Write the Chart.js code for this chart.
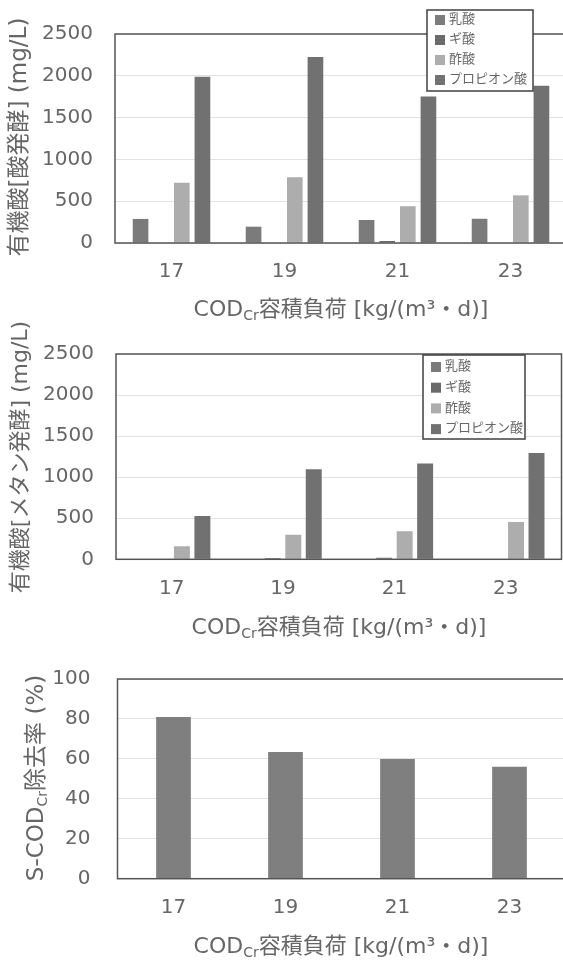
<!DOCTYPE html>
<html>
<head>
<meta charset="utf-8">
<script src="https://cdn.jsdelivr.net/npm/chart.js@4"></script>
<style>
html, body { margin: 0; padding: 0; background: #fff; overflow: hidden; width: 563px; height: 964px; }
canvas { position: absolute; left: 0; }
</style>
</head>
<body>
<canvas id="acidChart" width="580" height="320" style="top:0px"></canvas>
<canvas id="methChart" width="580" height="320" style="top:320px"></canvas>
<canvas id="removalChart" width="580" height="324" style="top:640px"></canvas>
<script>
// loads on the x axis
var loads = ['17', '19', '21', '23'];
var acidNames = ['乳酸', 'ギ酸', '酢酸', 'プロピオン酸'];

// organic acids, acid fermentation (mg/L)
var acidLactic = [288, 195, 275, 290];
var acidFormic = [0, 0, 24, 0];
var acidAcetic = [720, 785, 440, 570];
var acidPropionic = [1990, 2225, 1752, 1880];

// organic acids, methane fermentation (mg/L)
var methLactic = [0, 8, 8, 0];
var methFormic = [0, 15, 18, 0];
var methAcetic = [160, 300, 342, 455];
var methPropionic = [527, 1098, 1166, 1295];

// S-CODcr removal (%)
var removalRate = [81, 63.5, 60, 56];

var acidColors = ['#7b7b7b', '#6a6a6a', '#adadad', '#717171'];
var FONT = "'DejaVu Sans', 'Noto Sans CJK JP', sans-serif";
var TEXT = '#666666';

var xTitle = [['COD'], ['Cr', true], ['容積負荷 [kg/(m³・d)]']];

function drawParts(ctx, parts, size) {
    var w = 0;
    parts.forEach(function (p) {
        ctx.font = (p[1] ? Math.round(size * 0.62) : size) + 'px ' + FONT;
        w += ctx.measureText(p[0]).width;
    });
    var x = -w / 2;
    parts.forEach(function (p) {
        ctx.font = (p[1] ? Math.round(size * 0.62) : size) + 'px ' + FONT;
        ctx.fillText(p[0], x, p[1] ? size * 0.28 : 0);
        x += ctx.measureText(p[0]).width;
    });
}

var extras = {
    id: 'extras',
    afterDatasetsDraw: function (chart) {
        var a = chart.chartArea, ctx = chart.ctx;
        ctx.save();
        ctx.strokeStyle = '#555555';
        ctx.lineWidth = 1.5;
        ctx.strokeRect(a.left, a.top, a.right - a.left, a.bottom - a.top);
        ctx.restore();
    },
    afterDraw: function (chart) {
        var o = chart.options.plugins.extras, ctx = chart.ctx;
        ctx.save();
        ctx.fillStyle = TEXT;
        ctx.textBaseline = 'middle';
        // x title
        ctx.save();
        ctx.translate(o.xTitle.x, o.xTitle.y);
        drawParts(ctx, xTitle, 22);
        ctx.restore();
        // y title
        ctx.save();
        ctx.translate(o.yTitle.x, o.yTitle.y);
        ctx.rotate(-Math.PI / 2);
        drawParts(ctx, o.yTitle.parts, o.yTitle.size);
        ctx.restore();
        // legend box
        var L = o.legend;
        if (L) {
            ctx.fillStyle = '#ffffff';
            ctx.fillRect(L.x, L.y, L.w, L.h);
            ctx.strokeStyle = '#404040';
            ctx.lineWidth = 1.5;
            ctx.strokeRect(L.x, L.y, L.w, L.h);
            ctx.font = '13px ' + FONT;
            chart.data.datasets.forEach(function (ds, i) {
                var cy = L.y + L.first + i * L.row;
                ctx.fillStyle = ds.backgroundColor;
                ctx.fillRect(L.x + 8, cy - 5, 10, 10);
                ctx.fillStyle = TEXT;
                ctx.textAlign = 'left';
                ctx.fillText(ds.label, L.x + 22, cy);
            });
        }
        ctx.restore();
    }
};

function makeChart(id, box, datasets, yMax, yStep, extraOpts, catPct, barPct) {
    var canvas = document.getElementById(id);
    var W = canvas.width, H = canvas.height;
    return new Chart(canvas, {
        type: 'bar',
        data: { labels: loads, datasets: datasets },
        options: {
            responsive: false,
            animation: false,
            devicePixelRatio: 1,
            categoryPercentage: catPct,
            barPercentage: barPct,
            layout: { padding: { top: box.top, right: W - box.right, left: 0, bottom: 0 } },
            plugins: {
                legend: { display: false },
                tooltip: { enabled: false },
                extras: extraOpts
            },
            scales: {
                x: {
                    grid: { display: false, drawTicks: false },
                    border: { display: false },
                    ticks: { font: { family: FONT, size: 20 }, color: TEXT, padding: 17 },
                    afterFit: function (s) { s.height = H - box.bottom; }
                },
                y: {
                    min: 0, max: yMax,
                    grid: { color: '#e2e2e2', drawTicks: false },
                    border: { display: false },
                    ticks: {
                        stepSize: yStep, font: { family: FONT, size: 20 }, color: TEXT, padding: box.tickPad,
                        callback: function (v) { return String(v); }
                    },
                    afterFit: function (s) { s.width = box.left; }
                }
            }
        },
        plugins: [extras]
    });
}

function acidSets(vals) {
    return vals.map(function (v, i) {
        return { label: acidNames[i], data: v, backgroundColor: acidColors[i], borderWidth: 0 };
    });
}

makeChart('acidChart',
    { left: 115, right: 567, top: 34, bottom: 243, tickPad: 22 },
    acidSets([acidLactic, acidFormic, acidAcetic, acidPropionic]), 2500, 500,
    {
        xTitle: { x: 341, y: 310 },
        yTitle: { x: 20, y: 137, size: 23, parts: [['有機酸[酸発酵] (mg/L)']] },
        legend: { x: 427, y: 10, w: 106, h: 81, first: 10, row: 20 }
    }, 0.73, 0.76);

makeChart('methChart',
    { left: 116, right: 561.5, top: 30.5, bottom: 239.3, tickPad: 22 },
    acidSets([methLactic, methFormic, methAcetic, methPropionic]), 2500, 500,
    {
        xTitle: { x: 339, y: 308 },
        yTitle: { x: 21, y: 137, size: 22, parts: [['有機酸[メタン発酵] (mg/L)']] },
        legend: { x: 423, y: 35, w: 102, h: 84, first: 12, row: 20.7 }
    }, 0.735, 0.78);

makeChart('removalChart',
    { left: 117.5, right: 565.5, top: 28, bottom: 238.7, tickPad: 27 },
    [{ label: 'S-CODcr除去率', data: removalRate, backgroundColor: '#7f7f7f', borderWidth: 0 }], 100, 20,
    {
        xTitle: { x: 341, y: 307 },
        yTitle: { x: 37, y: 138, size: 23, parts: [['S-COD'], ['Cr', true], ['除去率 (%)']] }
    }, 0.62, 0.5);
</script>
</body>
</html>
